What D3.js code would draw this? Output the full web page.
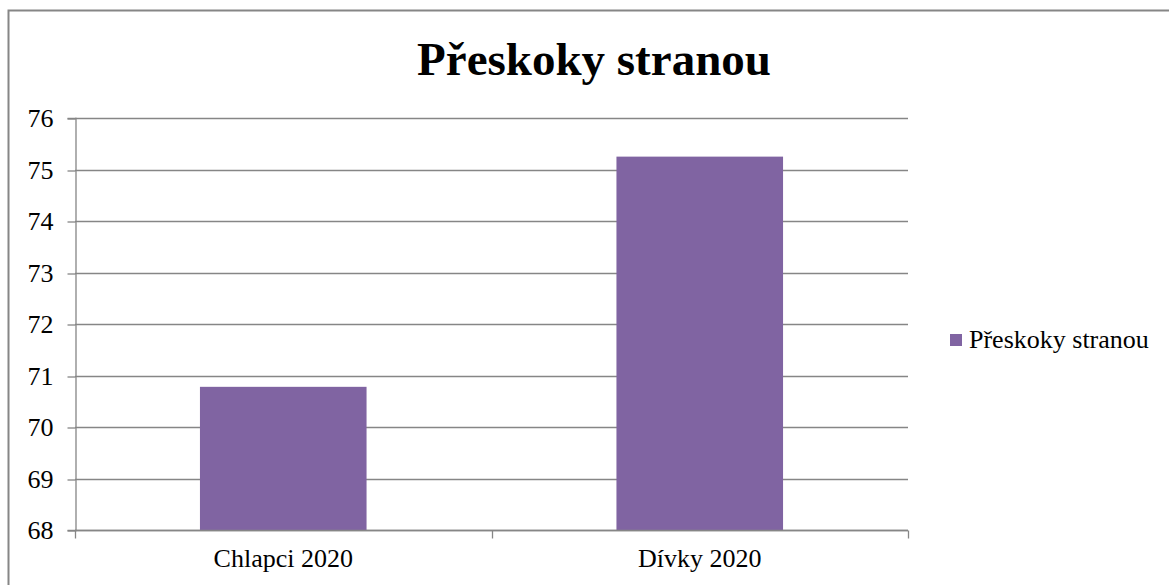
<!DOCTYPE html>
<html>
<head>
<meta charset="utf-8">
<script src="https://cdn.jsdelivr.net/npm/d3@7"></script>
<style>
  html, body { margin: 0; padding: 0; background: #fff; }
  svg { display: block; }
</style>
</head>
<body>
<svg id="chart" width="1169" height="585"></svg>
<script>
// Chart data
const categories = ["Chlapci 2020", "Dívky 2020"];
const values = [70.78, 75.25];
const seriesName = "Přeskoky stranou";
const yTicks = [68, 69, 70, 71, 72, 73, 74, 75, 76];
const title = "Přeskoky stranou";

const FONT = "'Liberation Serif', 'Times New Roman', 'DejaVu Serif', serif";
const svg = d3.select("#chart");
const W = 1169, H = 585;
const plot = { left: 75, right: 908, top: 118, bottom: 530 };
const axisColor = "#868686";
const barColor = "#8064A2";

// Outer chart frame
svg.append("rect")
  .attr("x", 8.5).attr("y", 10.5)
  .attr("width", W + 10).attr("height", H + 10)
  .attr("fill", "none").attr("stroke", axisColor).attr("stroke-width", 2);

// Title
svg.append("text")
  .attr("x", 594).attr("y", 75)
  .attr("text-anchor", "middle")
  .style("font-family", FONT)
  .style("font-size", "47px").style("font-weight", "bold")
  .text(title);

const x = d3.scaleBand()
  .domain(categories)
  .range([plot.left, plot.right])
  .paddingInner(0.6)
  .paddingOuter(0.3);

const y = d3.scaleLinear()
  .domain([68, 76])
  .range([plot.bottom, plot.top]);

// Horizontal gridlines
svg.append("g")
  .selectAll("line")
  .data(yTicks)
  .join("line")
  .attr("x1", plot.left).attr("x2", plot.right)
  .attr("y1", d => Math.round(y(d)) + 0.5).attr("y2", d => Math.round(y(d)) + 0.5)
  .attr("stroke", axisColor).attr("stroke-width", 1.3);

// Bars
svg.append("g")
  .selectAll("rect")
  .data(values)
  .join("rect")
  .attr("x", (d, i) => x(categories[i]))
  .attr("width", x.bandwidth())
  .attr("y", d => y(d))
  .attr("height", d => y(68) - y(d))
  .attr("fill", barColor);

// Y axis
const yAxis = svg.append("g")
  .attr("transform", `translate(${plot.left + 0.5},0)`)
  .call(d3.axisLeft(y).tickValues(yTicks).tickSize(8).tickPadding(14).tickFormat(d3.format("d")));
yAxis.select(".domain").attr("stroke", axisColor).attr("stroke-width", 1.3);
yAxis.selectAll(".tick line").attr("stroke", axisColor).attr("stroke-width", 1.3)
  .attr("transform", d => `translate(0,${Math.round(y(d)) + 0.5 - y(d)})`);
yAxis.selectAll(".tick text")
  .style("font-family", FONT)
  .style("font-size", "26px").attr("fill", "#000").attr("dy", "0.34em");

// X axis with category boundary ticks
const xAxisG = svg.append("g")
  .attr("transform", `translate(0,${Math.round(y(68)) + 0.5})`);
xAxisG.append("line")
  .attr("x1", plot.left).attr("x2", plot.right)
  .attr("stroke", axisColor).attr("stroke-width", 1.3);
const bPos = [plot.left, (x(categories[0]) + x(categories[1]) + x.bandwidth()) / 2, plot.right];
xAxisG.selectAll("line.tick")
  .data(bPos)
  .join("line")
  .attr("class", "tick")
  .attr("x1", d => Math.round(d) + 0.5).attr("x2", d => Math.round(d) + 0.5)
  .attr("y1", 0).attr("y2", 8)
  .attr("stroke", axisColor).attr("stroke-width", 1.3);
xAxisG.selectAll("text")
  .data(categories)
  .join("text")
  .attr("x", d => x(d) + x.bandwidth() / 2)
  .attr("y", 36)
  .attr("text-anchor", "middle")
  .style("font-family", FONT)
  .style("font-size", "26px")
  .text(d => d);

// Legend
const legend = svg.append("g").attr("transform", "translate(950,334)");
legend.append("rect")
  .attr("x", 0).attr("y", 0).attr("width", 12).attr("height", 12)
  .attr("fill", barColor);
legend.append("text")
  .attr("x", 19).attr("y", 14)
  .style("font-family", FONT)
  .style("font-size", "26px")
  .text(seriesName);
</script>
</body>
</html>
